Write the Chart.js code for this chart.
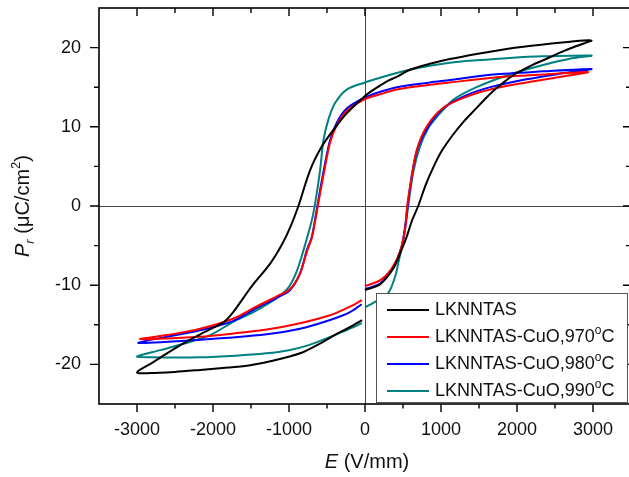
<!DOCTYPE html>
<html><head><meta charset="utf-8">
<script src="https://cdn.jsdelivr.net/npm/chart.js@4/dist/chart.umd.min.js"></script>
<style>html,body{margin:0;padding:0;overflow:hidden;background:#fff}canvas{display:block}</style>
</head><body>
<canvas id="c" width="640" height="477"></canvas>
<script>
// ---- data (E in V/mm, P in µC/cm²) ----
const seriesNames = ['LKNNTAS', 'LKNNTAS-CuO,970°C', 'LKNNTAS-CuO,980°C', 'LKNNTAS-CuO,990°C'];
const seriesColors = ['#000000', '#ff0000', '#0000ff', '#008080'];

const E_black = [0,197,372,470,548,620,700,800,900,1007,1150,1292,1450,1600,1708,1850,1980,2200,2343,2550,2782,2980,
  2700,2343,1905,1468,1117,854,591,416,300,197,100,0,-241,-416,-569,-723,-876,-980,-1095,-1250,-1472,-1600,-1734,-1850,-2000,-2168,-2400,-2606,-2800,-3000,
  -2825,-2500,-2168,-1800,-1511,-1200,-854,-600,-400,-200,-39];
const P_black = [-10.6,-9.9,-7.9,-5.8,-3.9,-1.8,0,2.7,4.9,6.9,8.9,10.6,12.2,13.7,14.7,15.8,16.7,17.8,18.4,19.3,20.2,20.9,
  20.75,20.4,19.9,19.2,18.55,17.95,17.2,16.3,15.8,15.2,14.6,13.9,11.7,9.6,7.5,4.5,0,-2.6,-4.9,-7.3,-9.9,-11.6,-13.4,-14.6,-15.4,-16.2,-17.4,-18.6,-19.8,-21.0,
  -21.1,-20.95,-20.7,-20.4,-20.1,-19.5,-18.6,-17.4,-16.3,-15.3,-14.4];

const E_970 = [0,197,351,460,526,555,613,679,810,1029,1336,1686,2125,2562,2935,
  2343,1686,1117,854,416,197,0,-241,-372,-460,-525,-591,-643,-700,-766,-854,-986,-1160,-1470,-1730,-2168,-2606,-2957,
  -2168,-1730,-1292,-854,-460,-197,-43];
const P_970 = [-10.1,-9.4,-7.9,-5.8,-3.0,0,3.6,7.0,10.0,12.4,13.8,14.8,15.6,16.3,16.9,
  16.6,16.2,15.6,15.3,14.7,14.1,13.5,12.0,10.2,8.0,5.0,1.6,-1.2,-4.0,-5.8,-8.5,-10.5,-11.4,-12.9,-14.2,-15.5,-16.3,-16.8,
  -16.5,-16.1,-15.6,-14.8,-13.8,-12.7,-11.9];

const E_980 = [0,197,372,482,539,560,627,700,850,1040,1336,1686,2125,2562,2980,
  2343,1686,1117,854,416,197,0,-241,-372,-460,-525,-591,-643,-700,-766,-854,-986,-1160,-1468,-1730,-2168,-2606,-2979,
  -2168,-1292,-854,-460,-197,-43];
const P_980 = [-10.5,-9.8,-7.7,-5.1,-1.8,0,4.5,7.5,10.3,12.4,14.0,15.1,16.0,16.7,17.3,
  17.0,16.6,15.9,15.6,15.0,14.4,13.7,12.3,10.5,8.3,5.4,2.0,-0.9,-3.9,-5.6,-8.5,-10.6,-11.6,-13.1,-14.5,-15.7,-16.5,-17.3,
  -16.9,-16.2,-15.5,-14.4,-13.4,-12.4];

const E_990 = [0,150,306,400,438,512,569,635,723,830,942,1161,1468,1905,2343,2694,2980,
  2343,1905,1468,1117,854,591,416,197,0,-241,-394,-482,-547,-591,-657,-700,-810,-900,-1000,-1160,-1468,-1730,-2037,-2388,-2694,-3000,
  -2825,-2168,-1700,-1300,-1000,-750,-500,-300,-150,-43];
const P_990 = [-12.8,-12.0,-11.0,-8.8,-7.2,-3.9,0,4.3,7.5,9.8,11.2,13.4,15.0,16.6,17.8,18.6,19.0,
  18.9,18.7,18.4,18.1,17.7,17.2,16.8,16.2,15.6,14.7,13.0,10.9,8.3,4.5,0.3,-1.8,-5.6,-8.3,-10.2,-11.6,-13.4,-14.6,-16.3,-17.4,-18.2,-19.0,
  -19.1,-19.1,-18.9,-18.6,-18.2,-17.6,-16.7,-15.9,-15.3,-14.8];

const xMajorTicks = [-3000, -2000, -1000, 0, 1000, 2000, 3000];
const xMinorTicks = [-2500, -1500, -500, 500, 1500, 2500];
const yMajorTicks = [-20, -10, 0, 10, 20];
const yMinorTicks = [-15, -5, 5, 15];
const xTickLabels = ['-3000', '-2000', '-1000', '0', '1000', '2000', '3000'];
const yTickLabels = ['-20', '-10', '0', '10', '20'];

// ---- build ----
const FONT = "'Liberation Sans', Arial, Helvetica, sans-serif";
const Es = [E_black, E_970, E_980, E_990];
const Ps = [P_black, P_970, P_980, P_990];
const datasets = Es.map((E, i) => ({
  label: seriesNames[i],
  data: E.map((e, j) => ({x: e, y: Ps[i][j]})),
  borderColor: seriesColors[i],
  backgroundColor: seriesColors[i],
  borderWidth: 2,
  pointRadius: 0,
  showLine: true,
  tension: 0.3,
  fill: false
}));

function richWidth(ctx, parts) {
  let w = 0;
  for (const p of parts) { ctx.font = p.font; w += ctx.measureText(p.t).width; }
  return w;
}
function drawRich(ctx, parts, x, y) {
  for (const p of parts) {
    ctx.font = p.font;
    ctx.fillText(p.t, x, y + (p.dy || 0));
    x += ctx.measureText(p.t).width;
  }
}

const decorPlugin = {
  id: 'decor',
  beforeDatasetsDraw(chart) {
    const {ctx, chartArea: a, scales: {x, y}} = chart;
    ctx.save();
    ctx.strokeStyle = '#444';
    ctx.lineWidth = 1;
    const x0 = Math.round(x.getPixelForValue(0)) + 0.5;
    const y0 = Math.round(y.getPixelForValue(0)) + 0.5;
    ctx.beginPath();
    ctx.moveTo(x0, a.top); ctx.lineTo(x0, a.bottom);
    ctx.moveTo(a.left, y0); ctx.lineTo(a.right, y0);
    ctx.stroke();
    ctx.restore();
  },
  afterDatasetsDraw(chart) {
    const {ctx, chartArea: a, scales: {x, y}} = chart;
    ctx.save();
    ctx.strokeStyle = '#000';
    ctx.lineWidth = 1.6;
    ctx.strokeRect(a.left, a.top, a.right - a.left, a.bottom - a.top);
    ctx.lineWidth = 1.4;
    ctx.beginPath();
    const tk = (arr, len, lenIn) => {
      for (const v of arr) {
        const px = x.getPixelForValue(v);
        ctx.moveTo(px, a.bottom); ctx.lineTo(px, a.bottom + len);
        ctx.moveTo(px, a.top); ctx.lineTo(px, a.top + lenIn);
      }
    };
    tk(xMajorTicks, 8, 8);
    tk(xMinorTicks, 4.5, 5);
    const tky = (arr, len, lenIn) => {
      for (const v of arr) {
        const py = y.getPixelForValue(v);
        ctx.moveTo(a.left, py); ctx.lineTo(a.left - len, py);
        ctx.moveTo(a.right, py); ctx.lineTo(a.right - lenIn, py);
      }
    };
    tky(yMajorTicks, 9, 8);
    tky(yMinorTicks, 5, 5);
    ctx.stroke();

    // legend
    const lx = a.left + 277, ly = a.top + 285, lw = 251, lh = 109;
    ctx.fillStyle = '#fff';
    ctx.fillRect(lx, ly, lw, lh);
    ctx.strokeStyle = '#555';
    ctx.lineWidth = 1;
    ctx.strokeRect(lx + 0.5, ly + 0.5, lw, lh);
    ctx.textBaseline = 'middle';
    ctx.fillStyle = '#111';
    seriesNames.forEach((name, i) => {
      const cy = ly + 17 + i * 27;
      ctx.strokeStyle = seriesColors[i];
      ctx.lineWidth = 2;
      ctx.beginPath();
      ctx.moveTo(lx + 11, cy); ctx.lineTo(lx + 53, cy);
      ctx.stroke();
      const parts = [];
      const idx = name.indexOf('°');
      if (idx >= 0) {
        parts.push({t: name.slice(0, idx), font: '18px ' + FONT});
        parts.push({t: 'o', font: '12px ' + FONT, dy: -6});
        parts.push({t: name.slice(idx + 1), font: '18px ' + FONT});
      } else {
        parts.push({t: name, font: '18px ' + FONT});
      }
      drawRich(ctx, parts, lx + 59, cy);
    });

    // axis titles
    ctx.fillStyle = '#111';
    ctx.textBaseline = 'alphabetic';
    const xt = [
      {t: 'E', font: 'italic 20px ' + FONT},
      {t: ' (V/mm)', font: '20px ' + FONT}
    ];
    const xw = richWidth(ctx, xt);
    drawRich(ctx, xt, x.getPixelForValue(0) + 2 - xw / 2, 468);

    const yt = [
      {t: 'P', font: 'italic 20px ' + FONT},
      {t: 'r', font: 'italic 13px ' + FONT, dy: 5},
      {t: ' (\u03BCC/cm', font: '20px ' + FONT},
      {t: '2', font: '13px ' + FONT, dy: -9},
      {t: ')', font: '20px ' + FONT}
    ];
    const yw = richWidth(ctx, yt);
    ctx.translate(29, y.getPixelForValue(0));
    ctx.rotate(-Math.PI / 2);
    drawRich(ctx, yt, -yw / 2, 0);
    ctx.restore();
  }
};

const noPad = s => { s.paddingTop = 0; s.paddingBottom = 0; s.paddingLeft = 0; s.paddingRight = 0; };

new Chart(document.getElementById('c'), {
  type: 'scatter',
  data: {datasets},
  options: {
    responsive: false,
    devicePixelRatio: 1,
    animation: false,
    layout: {autoPadding: false, padding: {left: 0, top: 8, right: 9, bottom: 0}},
    plugins: {legend: {display: false}, tooltip: {enabled: false}},
    scales: {
      x: {
        type: 'linear', min: -3500, max: 3500,
        afterBuildTicks: s => { s.ticks = xMajorTicks.map(v => ({value: v})); },
        afterFit: s => { s.height = 73; noPad(s); },
        grid: {display: false, drawTicks: false},
        border: {display: false},
        ticks: {
          padding: 15, color: '#111', maxRotation: 0, autoSkip: false,
          font: {family: FONT, size: 18},
          callback: (v) => xTickLabels[xMajorTicks.indexOf(v)]
        }
      },
      y: {
        type: 'linear', min: -25, max: 25,
        afterBuildTicks: s => { s.ticks = yMajorTicks.map(v => ({value: v})); },
        afterFit: s => { s.width = 99; noPad(s); },
        grid: {display: false, drawTicks: false},
        border: {display: false},
        ticks: {
          padding: 18, color: '#111', autoSkip: false,
          font: {family: FONT, size: 18},
          callback: (v) => yTickLabels[yMajorTicks.indexOf(v)]
        }
      }
    }
  },
  plugins: [decorPlugin]
});
</script></body></html>
